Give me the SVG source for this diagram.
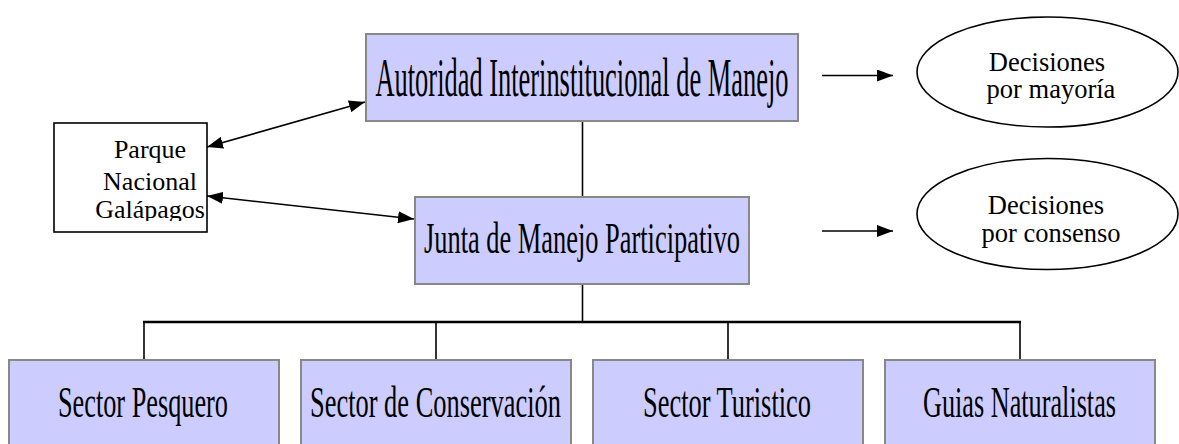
<svg xmlns="http://www.w3.org/2000/svg" width="1179" height="444" viewBox="0 0 1179 444">
<style>
.box{fill:#ccccff;stroke:#888888;stroke-width:2}
.plain{fill:#ffffff;stroke:#000000;stroke-width:1.6}
.ell{fill:#ffffff;stroke:#000000;stroke-width:1.6}
text{font-family:'Liberation Serif','Times New Roman',serif;fill:#000000;text-anchor:middle}
.big{font-size:55px}
.mid{font-size:45px}
.small{font-size:26px}
.elt{font-size:26.5px}
.conn line{stroke:#000000;stroke-width:1.6;fill:none}
.conn .bar{stroke-width:2.4}
</style>
<defs>
<marker id="ah" markerUnits="userSpaceOnUse" markerWidth="16" markerHeight="12" refX="16" refY="6" orient="auto-start-reverse">
<path d="M0,0 L16,6 L0,12 z" fill="#000000"/>
</marker>
<clipPath id="pclip"><rect x="54" y="123" width="153" height="98"/></clipPath>
</defs>

<g id="connectors" class="conn">
<line x1="582.5" y1="121" x2="582.5" y2="197"/>
<line x1="582.5" y1="284" x2="582.5" y2="322"/>
<line class="bar" x1="143" y1="322" x2="1021" y2="322"/>
<line x1="144" y1="322" x2="144" y2="360"/>
<line x1="436" y1="322" x2="436" y2="360"/>
<line x1="728" y1="322" x2="728" y2="360"/>
<line x1="1020" y1="322" x2="1020" y2="360"/>
<line x1="207" y1="147" x2="365" y2="102" marker-start="url(#ah)" marker-end="url(#ah)"/>
<line x1="207" y1="196" x2="414" y2="219" marker-start="url(#ah)" marker-end="url(#ah)"/>
<line x1="822" y1="75.5" x2="893" y2="75.5" marker-end="url(#ah)"/>
<line x1="822" y1="231" x2="893" y2="231" marker-end="url(#ah)"/>
</g>

<g id="autoridad">
<rect class="box" x="366" y="34" width="432" height="87"/>
<text class="big" x="582" y="96" textLength="413" lengthAdjust="spacingAndGlyphs">Autoridad Interinstitucional de Manejo</text>
</g>

<g id="junta">
<rect class="box" x="415" y="197" width="334" height="87"/>
<text class="mid" x="582" y="253" textLength="316" lengthAdjust="spacingAndGlyphs">Junta de Manejo Participativo</text>
</g>

<g id="parque">
<rect class="plain" x="54" y="123" width="153" height="109"/>
<g clip-path="url(#pclip)">
<text class="small" x="150" y="158">Parque</text>
<text class="small" x="150" y="190">Nacional</text>
<text class="small" x="150" y="218">Galápagos</text>
</g>
</g>

<g id="mayoria">
<ellipse class="ell" cx="1047.5" cy="72" rx="130.5" ry="55"/>
<text class="elt" x="1047" y="71">Decisiones</text>
<text class="elt" x="1051" y="98">por mayoría</text>
</g>

<g id="consenso">
<ellipse class="ell" cx="1047.5" cy="214" rx="130.5" ry="55.5"/>
<text class="elt" x="1046" y="214">Decisiones</text>
<text class="elt" x="1051" y="241.5">por consenso</text>
</g>

<g id="pesquero">
<rect class="box" x="9" y="360" width="270" height="110"/>
<text class="mid" x="143" y="417" textLength="170" lengthAdjust="spacingAndGlyphs">Sector Pesquero</text>
</g>

<g id="conservacion">
<rect class="box" x="301" y="360" width="270" height="110"/>
<text class="mid" x="435.5" y="417" textLength="251" lengthAdjust="spacingAndGlyphs">Sector de Conservación</text>
</g>

<g id="turistico">
<rect class="box" x="593" y="360" width="270" height="110"/>
<text class="mid" x="727" y="417" textLength="168" lengthAdjust="spacingAndGlyphs">Sector Turistico</text>
</g>

<g id="guias">
<rect class="box" x="885" y="360" width="270" height="110"/>
<text class="mid" x="1019.5" y="417" textLength="193" lengthAdjust="spacingAndGlyphs">Guias Naturalistas</text>
</g>
</svg>
